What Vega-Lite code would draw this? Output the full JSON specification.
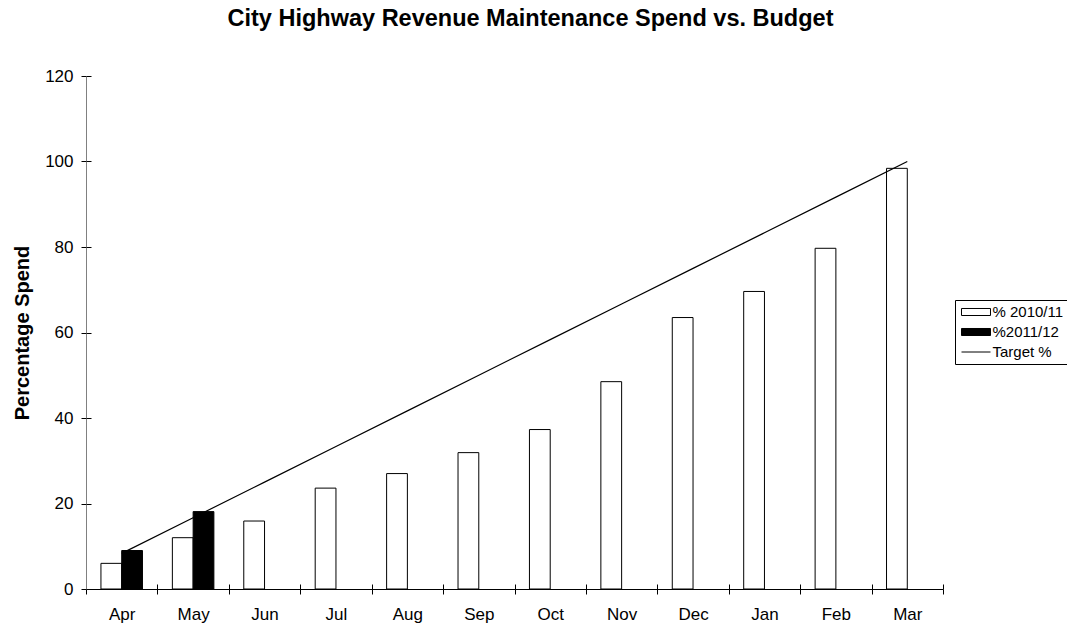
{
  "$schema": "https://vega.github.io/schema/vega-lite/v6.json",
  "width": 857,
  "height": 513,
  "autosize": "none",
  "padding": {"left": 86, "top": 76, "right": 124, "bottom": 36},
  "background": "white",
  "title": {
    "text": "City Highway Revenue Maintenance Spend vs. Budget",
    "font": "Liberation Sans",
    "fontSize": 23.5,
    "fontWeight": "bold",
    "color": "black",
    "anchor": "middle",
    "dx": 16,
    "offset": 37
  },
  "config": {"view": {"stroke": null}, "font": "Liberation Sans"},
  "resolve": {"axis": {"x": "independent", "y": "independent"}},
  "datasets": {
    "bars": [
      {"month": "Apr", "series": "% 2010/11", "value": 6},
      {"month": "May", "series": "% 2010/11", "value": 12},
      {"month": "Jun", "series": "% 2010/11", "value": 15.9},
      {"month": "Jul", "series": "% 2010/11", "value": 23.6},
      {"month": "Aug", "series": "% 2010/11", "value": 27},
      {"month": "Sep", "series": "% 2010/11", "value": 31.9},
      {"month": "Oct", "series": "% 2010/11", "value": 37.3},
      {"month": "Nov", "series": "% 2010/11", "value": 48.5},
      {"month": "Dec", "series": "% 2010/11", "value": 63.5},
      {"month": "Jan", "series": "% 2010/11", "value": 69.6},
      {"month": "Feb", "series": "% 2010/11", "value": 79.7},
      {"month": "Mar", "series": "% 2010/11", "value": 98.4},
      {"month": "Apr", "series": "%2011/12", "value": 9},
      {"month": "May", "series": "%2011/12", "value": 18.1}
    ],
    "target": [
      {"month": "Apr", "value": 8.33},
      {"month": "May", "value": 16.67},
      {"month": "Jun", "value": 25},
      {"month": "Jul", "value": 33.33},
      {"month": "Aug", "value": 41.67},
      {"month": "Sep", "value": 50},
      {"month": "Oct", "value": 58.33},
      {"month": "Nov", "value": 66.67},
      {"month": "Dec", "value": 75},
      {"month": "Jan", "value": 83.33},
      {"month": "Feb", "value": 91.67},
      {"month": "Mar", "value": 100}
    ]
  },
  "layer": [
    {
      "data": {"name": "bars"},
      "mark": {"type": "bar", "stroke": "black", "strokeWidth": 1},
      "encoding": {
        "x": {
          "field": "month",
          "type": "nominal",
          "scale": {"domain": ["Apr","May","Jun","Jul","Aug","Sep","Oct","Nov","Dec","Jan","Feb","Mar"], "paddingInner": 0, "paddingOuter": 0},
          "axis": {
            "orient": "bottom",
            "title": null,
            "labelAngle": 0,
            "tickBand": "extent",
            "labelFont": "Liberation Sans",
            "labelFontSize": 17,
            "labelColor": "black",
            "tickColor": "black",
            "domainColor": "black",
            "tickSize": 5,
            "labelPadding": 12
          }
        },
        "xOffset": {
          "field": "series",
          "type": "nominal",
          "scale": {"domain": ["% 2010/11", "%2011/12"], "paddingInner": 0, "paddingOuter": 0.72}
        },
        "y": {
          "field": "value",
          "type": "quantitative",
          "scale": {"domain": [0, 120], "nice": false},
          "axis": {
            "orient": "left",
            "title": "Percentage Spend",
            "titleFont": "Liberation Sans",
            "titleFontSize": 20,
            "titleFontWeight": "bold",
            "titleColor": "black",
            "titlePadding": 12,
            "values": [0, 20, 40, 60, 80, 100, 120],
            "grid": false,
            "labelFont": "Liberation Sans",
            "labelFontSize": 17,
            "labelColor": "black",
            "tickColor": "black",
            "domainColor": "#808080",
            "tickSize": 5,
            "labelPadding": 8
          }
        },
        "fill": {
          "field": "series",
          "type": "nominal",
          "scale": {"domain": ["% 2010/11", "%2011/12", "Target %"], "range": ["white", "black", "black"]},
          "legend": {
            "title": null,
            "orient": "none",
            "legendX": 869,
            "legendY": 224,
            "strokeColor": "black",
            "fillColor": "white",
            "padding": 4,
            "cornerRadius": 0,
            "labelFont": "Liberation Sans",
            "labelFontSize": 15,
            "labelColor": "black",
            "labelOffset": 8.5,
            "symbolSize": 225,
            "symbolOffset": 9,
            "symbolType": {"expr": "datum.label === 'Target %' ? 'M-1.933,0H1.933' : 'M-1.933,-0.467H1.933V0.467H-1.933Z'"},
            "symbolStrokeColor": "black",
            "symbolStrokeWidth": 1,
            "rowPadding": 4
          }
        }
      }
    },
    {
      "data": {"name": "target"},
      "mark": {"type": "line", "color": "black", "strokeWidth": 1.2},
      "encoding": {
        "x": {
          "field": "month",
          "type": "nominal",
          "axis": {"orient": "bottom", "title": null, "labels": false, "domain": false, "tickBand": "extent", "tickSize": -5, "tickColor": "black"}
        },
        "y": {
          "field": "value",
          "type": "quantitative",
          "axis": {"orient": "left", "title": null, "labels": false, "domain": false, "grid": false, "values": [0, 20, 40, 60, 80, 100, 120], "tickSize": -5, "tickColor": "black"}
        }
      }
    }
  ]
}
